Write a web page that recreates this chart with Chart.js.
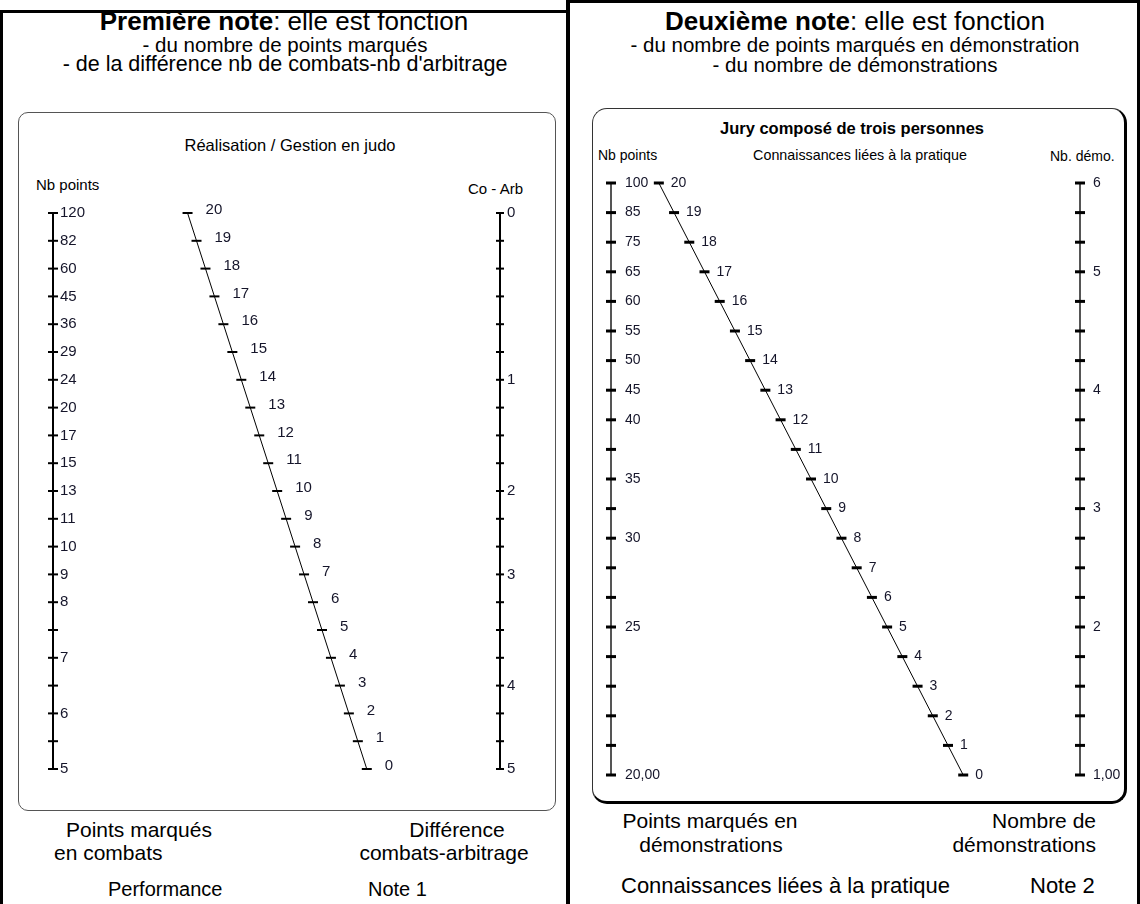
<!DOCTYPE html>
<html>
<head>
<meta charset="utf-8">
<script src="https://cdn.jsdelivr.net/npm/chart.js@4.4.0/dist/chart.umd.min.js"></script>
<style>
  body { margin: 0; background: #fff; font-family: "Liberation Sans", Arial, sans-serif; color: #000; }
  #page { position: relative; width: 1140px; height: 904px; overflow: hidden; }
  .t { position: absolute; white-space: nowrap; line-height: 1; }
  .c { transform: translate(-50%, -50%); text-align: center; }
  .l { transform: translateY(-50%); }
  .r { transform: translate(-100%, -50%); text-align: right; }
  .bar { position: absolute; background: #000; }
  .box { position: absolute; box-sizing: border-box; }
  .wrap { position: absolute; }
</style>
</head>
<body>
<div id="page">
  <!-- frame -->
  <div class="bar" style="left:0;top:10px;width:568px;height:3px"></div>
  <div class="bar" style="left:566px;top:0;width:1140px;height:3px"></div>
  <div class="bar" style="left:0;top:10px;width:3px;height:900px"></div>
  <div class="bar" style="left:566px;top:0;width:4px;height:904px"></div>
  <div class="bar" style="left:1137px;top:0;width:3px;height:904px"></div>

  <!-- left panel text -->
  <div class="t c" style="left:284px;top:21px;font-size:26px"><b>Première note</b>: elle est fonction</div>
  <div class="t c" style="left:285px;top:45px;font-size:20.5px">- du nombre de points marqués</div>
  <div class="t c" style="left:285px;top:65px;font-size:21.5px">- de la différence nb de combats-nb d'arbitrage</div>
  <div class="box" style="left:18px;top:112px;width:538px;height:699px;border:1.5px solid #555;border-radius:10px"></div>
  <div class="t c" style="left:290px;top:145px;font-size:16.5px">Réalisation / Gestion en judo</div>
  <div class="t l" style="left:36px;top:184px;font-size:15px">Nb points</div>
  <div class="t l" style="left:468px;top:188px;font-size:15px">Co - Arb</div>
  <div class="t l" style="left:66px;top:829px;font-size:21px">Points marqués</div>
  <div class="t l" style="left:54px;top:852px;font-size:21px">en combats</div>
  <div class="t c" style="left:457px;top:829px;font-size:21px">Différence</div>
  <div class="t c" style="left:444px;top:852px;font-size:21px">combats-arbitrage</div>
  <div class="t l" style="left:108px;top:889px;font-size:20px">Performance</div>
  <div class="t l" style="left:368px;top:889px;font-size:20px">Note 1</div>

  <!-- right panel text -->
  <div class="t c" style="left:855px;top:21px;font-size:26px"><b>Deuxième note</b>: elle est fonction</div>
  <div class="t c" style="left:855px;top:45px;font-size:20.5px">- du nombre de points marqués en démonstration</div>
  <div class="t c" style="left:855px;top:65px;font-size:20.5px">- du nombre de démonstrations</div>
  <div class="box" style="left:592px;top:108px;width:535px;height:696px;border:1.5px solid #333;border-right:3px solid #000;border-bottom:3px solid #000;border-radius:15px"></div>
  <div class="t c" style="left:852px;top:128px;font-size:16.5px;font-weight:bold">Jury composé de trois personnes</div>
  <div class="t l" style="left:598px;top:155px;font-size:14px">Nb points</div>
  <div class="t c" style="left:860px;top:155px;font-size:14.3px">Connaissances liées à la pratique</div>
  <div class="t l" style="left:1050px;top:156px;font-size:14px">Nb. démo.</div>
  <div class="t c" style="left:710px;top:820px;font-size:21px">Points marqués en</div>
  <div class="t c" style="left:711px;top:844px;font-size:21px">démonstrations</div>
  <div class="t r" style="left:1096px;top:820px;font-size:21px">Nombre de</div>
  <div class="t r" style="left:1096px;top:844px;font-size:21px">démonstrations</div>
  <div class="t l" style="left:621px;top:886px;font-size:22px">Connaissances liées à la pratique</div>
  <div class="t l" style="left:1030px;top:886px;font-size:22px">Note 2</div>

  <div class="wrap" style="left:18px;top:112px"><canvas id="note1" width="540" height="700"></canvas></div>
  <div class="wrap" style="left:592px;top:108px"><canvas id="note2" width="536" height="696"></canvas></div>
</div>

<script>
// Note 1 nomogram: tick labels from top to bottom
const pointsCombat = ['120', '82', '60', '45', '36', '29', '24', '20', '17', '15', '13', '11', '10', '9', '8', '', '7', '', '6', '', '5'];
const coArb = ['0', '', '', '', '', '', '1', '', '', '', '2', '', '', '3', '', '', '', '4', '', '', '5'];
const note1 = [20, 19, 18, 17, 16, 15, 14, 13, 12, 11, 10, 9, 8, 7, 6, 5, 4, 3, 2, 1, 0];

// Note 2 nomogram
const pointsDemo = ['100', '85', '75', '65', '60', '55', '50', '45', '40', '', '35', '', '30', '', '', '25', '', '', '', '', '20,00'];
const nbDemo = ['6', '', '', '5', '', '', '', '4', '', '', '', '3', '', '', '', '2', '', '', '', '', '1,00'];
const note2 = [20, 19, 18, 17, 16, 15, 14, 13, 12, 11, 10, 9, 8, 7, 6, 5, 4, 3, 2, 1, 0];

// draws the text next to each tick mark
const tickLabels = {
    id: 'tickLabels',
    afterDatasetsDraw(chart) {
        const ctx = chart.ctx;
        chart.data.datasets.forEach((ds, di) => {
            if (!ds.tickLabels) return;
            const meta = chart.getDatasetMeta(di);
            ctx.save();
            ctx.font = ds.labelFont;
            ctx.fillStyle = '#15152a';
            ctx.textAlign = 'left';
            ctx.textBaseline = 'middle';
            meta.data.forEach((pt, i) => {
                const txt = ds.tickLabels[i];
                if (txt === '' || txt === undefined) return;
                ctx.fillText(String(txt), pt.x + ds.labelDx, pt.y + (ds.labelDy || 0));
            });
            ctx.restore();
        });
    }
};

// vertical scale: rows on a straight axis
function axisSet(labels, col, opts) {
    return {
        data: labels.map((_, i) => ({ x: col, y: i })),
        tickLabels: labels,
        xAxisID: 'x',
        yAxisID: 'y',
        showLine: true,
        borderColor: opts.lineColor,
        borderWidth: opts.lineWidth,
        pointStyle: 'line',
        pointRadius: opts.tick,
        pointBorderWidth: opts.tickWidth,
        pointBorderColor: '#000',
        labelFont: opts.font,
        labelDx: opts.dx,
        clip: false
    };
}

// slanted note scale: value v placed through its own scales
function noteSet(values, opts) {
    return {
        data: values.map(v => ({ x: v, y: v })),
        tickLabels: values,
        xAxisID: 'xn',
        yAxisID: 'yn',
        showLine: true,
        borderColor: '#000',
        borderWidth: 1,
        pointStyle: 'line',
        pointRadius: opts.tick,
        pointBorderWidth: opts.tickWidth,
        pointBorderColor: '#000',
        labelFont: opts.font,
        labelDx: opts.dx,
        labelDy: opts.dy,
        clip: false
    };
}

// note scale x range, so the top value sits at fraction a and the bottom one at b
function noteScaleX(values, a, b) {
    const vMax = Math.max(...values), vMin = Math.min(...values);
    const span = (vMax - vMin) / (b - a);
    const max = vMin + b * span;
    return { type: 'linear', display: false, reverse: true, min: max - span, max: max };
}

function buildNomogram(id, left, right, note, padding, noteTop, noteBottom, style) {
    const rows = left.length - 1;
    return new Chart(document.getElementById(id), {
        type: 'scatter',
        data: {
            datasets: [
                axisSet(left, 0, style.axis),
                axisSet(right, 1, style.axisR),
                noteSet(note, style.note)
            ]
        },
        options: {
            responsive: false,
            animation: false,
            events: [],
            layout: { padding: padding },
            plugins: { legend: { display: false }, tooltip: { enabled: false } },
            scales: {
                x: { type: 'linear', display: false, min: 0, max: 1 },
                y: { type: 'linear', display: false, min: 0, max: rows, reverse: true },
                xn: noteScaleX(note, noteTop, noteBottom),
                yn: { type: 'linear', display: false, min: Math.min(...note), max: Math.max(...note) }
            }
        },
        plugins: [tickLabels]
    });
}

const f1 = '15px "Liberation Sans", Arial, sans-serif';
const f2 = '14px "Liberation Sans", Arial, sans-serif';

buildNomogram('note1', pointsCombat, coArb, note1,
    { left: 35, right: 58, top: 101, bottom: 43 }, 0.301, 0.702, {
        axis: { lineColor: '#000', lineWidth: 2, tick: 5, tickWidth: 2, font: f1, dx: 7 },
        axisR: { lineColor: '#000', lineWidth: 2, tick: 4, tickWidth: 2, font: f1, dx: 7 },
        note: { tick: 5, tickWidth: 2, font: f1, dx: 18, dy: -3 }
    });

buildNomogram('note2', pointsDemo, nbDemo, note2,
    { left: 19, right: 48, top: 75, bottom: 29 }, 0.102, 0.751, {
        axis: { lineColor: '#555', lineWidth: 2, tick: 5, tickWidth: 3, font: f2, dx: 14 },
        axisR: { lineColor: '#555', lineWidth: 2, tick: 5, tickWidth: 3, font: f2, dx: 13 },
        note: { tick: 5, tickWidth: 3, font: f2, dx: 12, dy: 0 }
    });
</script>
</body>
</html>
